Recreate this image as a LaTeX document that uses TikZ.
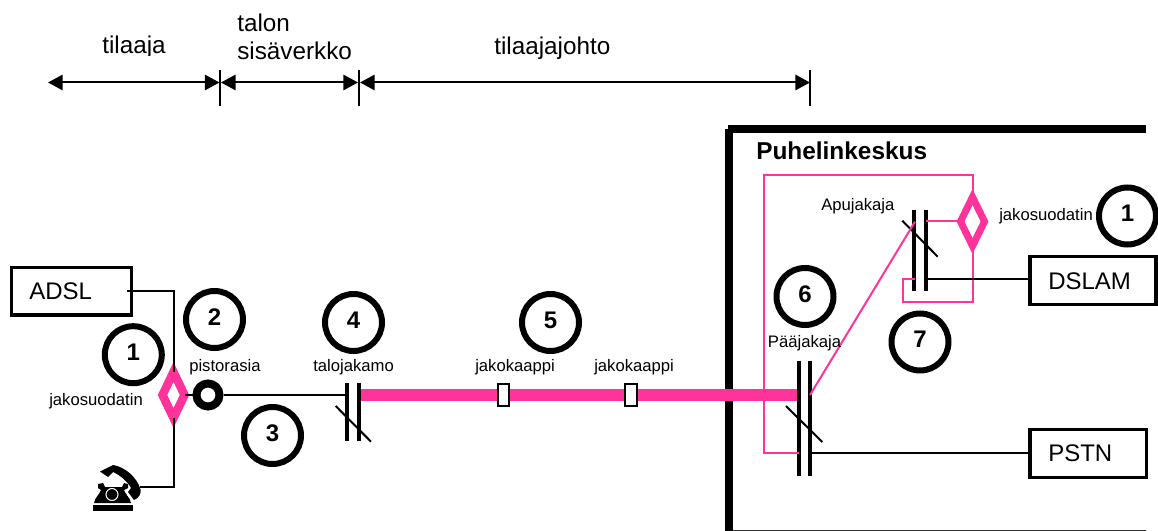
\documentclass[tikz,border=0pt]{standalone}
\usepackage{fontspec}
\setmainfont{Liberation Sans}
\usetikzlibrary{shapes.geometric,arrows.meta}
\definecolor{hotpink}{HTML}{FF3399}
\tikzset{
  x=0.75pt,y=-0.75pt,
  px/.style={line width=#1*0.75pt},
  numring/.style={circle,draw=black,px=6,minimum size=57*0.75pt,inner sep=0pt,text depth=4pt,font=\fontsize{18}{18}\selectfont\bfseries},
  bigbox/.style={draw=black,fill=white,px=3.5,inner sep=0pt,outer sep=0pt},
  boxtext/.style={anchor=base west,inner sep=0pt,font=\fontsize{18}{18}\selectfont},
  small/.style={anchor=base west,inner sep=0pt,font=\fontsize{12.5}{12.5}\selectfont},
  headtext/.style={anchor=base west,inner sep=0pt,font=\fontsize{18.2}{18.2}\selectfont},
  filt/.style={diamond,draw=hotpink,fill=white,inner sep=0pt,outer sep=0pt,aspect=0.5},
  span/.style={px=2,{Triangle[length=11pt,width=11.5pt]}-{Triangle[length=11pt,width=11.5pt]}},
  tick/.style={px=2},
  bar/.style={px=4,draw=black},
  slash/.style={px=2,draw=black},
  wire/.style={px=2,draw=black},
  pwire/.style={px=2,draw=hotpink},
  trunk/.style={px=11.5,draw=hotpink},
  wall/.style={px=8,draw=black},
  cabinet/.style={draw=black,fill=white,px=2,inner sep=0pt,minimum width=11.5*0.75pt,minimum height=22.5*0.75pt},
  sockets/.style={circle,draw=black,fill=white,px=8,inner sep=0pt,minimum size=23*0.75pt},
}
\begin{document}
\begin{tikzpicture}
\useasboundingbox (0,0) rectangle (1158,531);
% header
\begin{scope}
\clip (0,0) rectangle (1158,55.5);
\node[headtext] (tilaaja) at (102,54) {tilaaja};
\end{scope}
\node[headtext] (tilaajajohto) at (494,55) {tilaajajohto};
\node[headtext] (talon) at (237,32) {talon};
\node[headtext] (sisa) at (237,60) {sisäverkko};
\coordinate (a0) at (48,82.5);
\coordinate (a1) at (219.5,82.5);
\coordinate (a1b) at (221,82.5);
\coordinate (a2) at (358,82.5);
\coordinate (a2b) at (360,82.5);
\coordinate (a3) at (810,82.5);
\draw[span] (a0) -- (a1);
\draw[span] (a1b) -- (a2);
\draw[span] (a2b) -- (a3);
\draw[tick] (220,70) -- (220,106);
\draw[tick] (358.5,70) -- (358.5,106);
\draw[tick] (810,70) -- (810,106);
% exchange walls
\draw[wall] (1146,129) -- (728,129);
\draw[wall] (729,129) -- (729,531);
\draw[px=1,draw=black!80] (733,530.5) -- (1146,530.5);
\node[anchor=base west,inner sep=0pt,font=\fontsize{18.3}{18.3}\selectfont\bfseries] (puh) at (756,160) {Puhelinkeskus};
% trunk
\coordinate (t0) at (360,395);
\coordinate (t1) at (799,395);
\draw[trunk] (t0) -- (t1);
\node[cabinet] (kaappi1) at (503.7,395) {};
\node[cabinet] (kaappi2) at (630.8,395) {};
% nodes left
\node[bigbox,minimum width=120*0.75pt,minimum height=47.5*0.75pt] (adsl) at (71.5,291.2) {};
\node[boxtext] (adsltxt) at (29,300) {ADSL};
\coordinate (adslout) at (127,290.7);
\coordinate (adslcorner) at (173.5,290.7);
\coordinate (phoneout) at (140,487);
\coordinate (phonecorner) at (173.5,487);
\coordinate (ftop) at (173.5,372);
\coordinate (fbot) at (173.5,418);
\coordinate (fright) at (185,395);
\node[filt,px=8.5,minimum width=22*0.75pt,minimum height=46*0.75pt] (filt1) at (173.5,395) {};
\draw[wire] (adslout) -- (adslcorner) -- (ftop);
\draw[wire] (phoneout) -- (phonecorner) -- (fbot);
\node[sockets] (socket) at (208,395) {};
\draw[wire] (fright) -- (socket);
\coordinate (talo1) at (347.3,395);
\draw[wire] (socket) -- (talo1);
% distribution frames
\draw[bar] (347.3,383.3) -- (347.3,441.3);
\draw[bar] (359,383.3) -- (359,441.3);
\draw[slash] (335.7,406) -- (371,441.7);
% main frame
\coordinate (m1a) at (799,452.7);
\coordinate (m2out) at (810,395);
\coordinate (m2b) at (810,452.7);
\draw[bar] (798.7,360.7) -- (798.7,475.7);
\draw[bar] (810,360.7) -- (810,475.7);
\draw[slash] (786,406) -- (822.3,442);
% aux frame
\coordinate (ap1) at (915,221.7);
\coordinate (ap2) at (926,221);
\coordinate (ap1b) at (915,279);
\coordinate (ap2b) at (926,279);
\draw[bar] (914.3,210) -- (914.3,291);
\draw[bar] (926,210) -- (926,291);
\draw[slash] (902.3,220.7) -- (937.7,256.7);
% right filter
\node[filt,px=7,minimum width=24*0.75pt,minimum height=49*0.75pt] (filt2) at (972.5,221.5) {};
\coordinate (lt) at (764,175);
\coordinate (rt) at (972.5,175);
\coordinate (lb) at (764,452.7);
\coordinate (rb) at (972.5,302.3);
\coordinate (bl) at (902.7,302.3);
\coordinate (blt) at (902.7,279);
\draw[pwire] (m1a) -- (lb) -- (lt) -- (rt) -- (filt2.north);
\draw[pwire] (filt2.south) -- (rb) -- (bl) -- (blt) -- (ap1b);
\draw[pwire] (ap2) -- (ap2 -| filt2.west);
\draw[pwire] (m2out) -- (ap1);
% boxes right
\node[bigbox,minimum width=126*0.75pt,minimum height=48*0.75pt] (dslam) at (1093,280.5) {};
\node[boxtext] (dslamtxt) at (1048,289.3) {DSLAM};
\node[bigbox,minimum width=116.5*0.75pt,minimum height=48*0.75pt] (pstn) at (1088.2,453.3) {};
\node[boxtext] (pstntxt) at (1048,461.7) {PSTN};
\draw[wire] (ap2b) -- (ap2b -| dslam.west);
\draw[wire] (m2b) -- (m2b -| pstn.west);
% labels
\node[small] (l1) at (49,406) {jakosuodatin};
\node[small] (l2) at (189,371.7) {pistorasia};
\node[small] (l3) at (313,372) {talojakamo};
\node[small] (l4) at (475,372) {jakokaappi};
\node[small] (l5) at (594,372) {jakokaappi};
\node[small] (l6) at (767.7,347.7) {Pääjakaja};
\node[small] (l7) at (821,210.7) {Apujakaja};
\node[small] (l8) at (999,221) {jakosuodatin};
% numbered rings
\node[numring] (n1) at (133.3,354.7) {1};
\node[numring] (n2) at (214.5,319.5) {2};
\node[numring] (n3) at (272.5,435.5) {3};
\node[numring] (n4) at (353.5,322.5) {4};
\node[numring] (n5) at (550.5,322.5) {5};
\node[numring] (n6) at (805,296.5) {6};
\node[numring] (n7) at (920,342) {7};
\node[numring] (n8) at (1127.5,216) {1};
% telephone
\fill[black] (93,505) rectangle (133,510.7);
\fill[black] (94,503) .. controls (95,497) and (100,494) .. (101,490) -- (98,488) -- (98,484) -- (103,483) -- (105,487) -- (122,487) -- (124,483) -- (128,484) -- (128,488) -- (124,490) .. controls (125,494) and (130,497) .. (131,503) -- cycle;
\draw[white,px=1] (112,494.5) circle (6);
\fill[black] (100,471.5) -- (113,465) .. controls (125,467) and (137,477) .. (140.7,490) .. controls (141,494) and (139,498) .. (134,500) -- (128,492) -- (131,488) .. controls (128,482) and (120,475) .. (113,472) -- (108,477) -- cycle;
\fill[white] (129.5,498) -- (127,495) -- (128,494.5) -- (130.5,497.5) -- cycle;
\end{tikzpicture}
\end{document}
